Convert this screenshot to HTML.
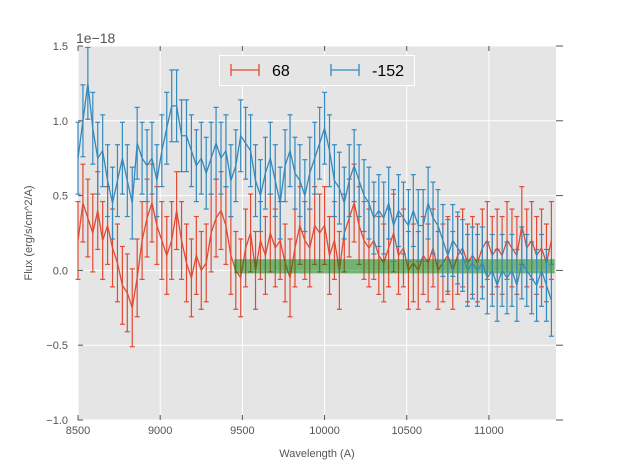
<!DOCTYPE html>
<html><head><meta charset="utf-8"><style>
body{margin:0;background:#fff;}
svg{display:block;font-family:"Liberation Sans",sans-serif;}
</style></head><body>
<svg id="chart" width="617" height="467" viewBox="0 0 617 467"></svg>
<script>
const wavelengths = [];
for (let w = 8500; w <= 11380; w += 30) wavelengths.push(w);
const fluxRed = [0.2,0.45,0.35,0.25,0.4,0.2,0.3,0.15,0.05,-0.1,-0.15,-0.25,-0.05,0.2,0.35,0.45,0.3,0.2,0.1,0.2,0.4,0.2,0.05,-0.05,0.1,0.0,0.05,0.25,0.35,0.4,0.3,0.1,0.0,-0.05,0.15,0.25,0.0,0.2,0.1,0.25,0.15,0.2,0.05,-0.05,0.15,0.3,0.2,0.15,0.3,0.25,0.3,0.1,0.2,0.0,0.25,0.35,0.45,0.3,0.2,0.15,0.2,0.1,0.05,0.15,0.25,0.1,0.15,0.0,0.05,0.0,0.1,0.05,0.15,0.0,0.05,0.1,0.0,0.1,0.15,0.05,0.1,0.05,0.15,0.2,0.1,0.15,0.1,0.2,0.15,0.1,0.3,0.15,0.2,0.1,0.15,0.05,0.2];
const fluxBlue = [0.75,1.0,1.25,0.95,0.75,0.8,0.6,0.45,0.6,0.75,0.6,0.45,0.85,0.75,0.7,0.75,0.6,0.8,0.95,1.1,1.1,0.9,0.9,0.8,0.7,0.75,0.65,0.75,0.85,0.75,0.8,0.6,0.7,0.9,0.85,0.8,0.6,0.5,0.65,0.75,0.6,0.45,0.7,0.8,0.65,0.6,0.5,0.65,0.75,0.85,0.95,0.8,0.6,0.55,0.45,0.6,0.7,0.6,0.5,0.45,0.35,0.4,0.35,0.45,0.3,0.4,0.35,0.3,0.4,0.3,0.3,0.45,0.35,0.3,0.2,0.1,0.2,0.15,0.1,0.0,0.05,0.0,0.05,-0.05,0.0,-0.1,0.0,-0.05,0.0,-0.1,0.05,0.0,-0.05,-0.1,0.0,-0.1,-0.2];
const errRed = 0.26;
const errBlue = 0.24;
const xTicks = [8500,9000,9500,10000,10500,11000];
const yTicks = [-1.0,-0.5,0.0,0.5,1.0,1.5];
const yTickLabels = ["\u22121.0","\u22120.5","0.0","0.5","1.0","1.5"];
const bandRange = [9450, 11400, -0.02, 0.075];

const L=78,R=556,T=46,B=420, X0=8500,X1=11408, Y0=-1.0,Y1=1.5;
const sx=v=>L+(v-X0)/(X1-X0)*(R-L);
const sy=v=>B-(v-Y0)/(Y1-Y0)*(B-T);
const svg=document.getElementById('chart');
const NS='http://www.w3.org/2000/svg';
function mk(tag,attrs,parent){const e=document.createElementNS(NS,tag);for(const k in attrs)e.setAttribute(k,attrs[k]);(parent||svg).appendChild(e);return e;}

const bg=mk('rect',{x:L,y:T,width:R-L,height:B-T,fill:'#e5e5e5'});


const grid=mk('g',{stroke:'#fff','stroke-width':1});


xTicks.forEach(t=>{mk('line',{x1:sx(t),x2:sx(t),y1:T,y2:B},grid);});
yTicks.forEach(t=>{mk('line',{x1:L,x2:R,y1:sy(t),y2:sy(t)},grid);});

function series(vals,err,color,name){
  const g=mk('g',{stroke:color,'stroke-width':1.2,fill:'none'});
  
  
  vals.forEach((v,i)=>{const x=sx(wavelengths[i]);
    mk('line',{x1:x,x2:x,y1:sy(v-err),y2:sy(v+err)},g);
    mk('line',{x1:x-2.5,x2:x+2.5,y1:sy(v-err),y2:sy(v-err)},g);
    mk('line',{x1:x-2.5,x2:x+2.5,y1:sy(v+err),y2:sy(v+err)},g);});
  mk('polyline',{points:vals.map((v,i)=>sx(wavelengths[i])+','+sy(v)).join(' '),'stroke-width':1.3},g);
}
series(fluxRed,errRed,'#E24A33','series-68');
const band=mk('rect',{x:sx(bandRange[0]),y:sy(bandRange[3]),width:sx(Math.min(bandRange[1],X1))-sx(bandRange[0]),height:sy(bandRange[2])-sy(bandRange[3]),fill:'#008000','fill-opacity':0.5});


series(fluxBlue,errBlue,'#348ABD','series-neg152');

const ax=mk('g',{'font-size':11,fill:'#555'});


xTicks.forEach(t=>{mk('line',{x1:sx(t),x2:sx(t),y1:B,y2:B-5,stroke:'#555'},ax);mk('line',{x1:sx(t),x2:sx(t),y1:T,y2:T+5,stroke:'#555'},ax);
  const tx=mk('text',{x:sx(t),y:B+14,'text-anchor':'middle'},ax);tx.textContent=t;
  
  });
yTicks.forEach((t,i)=>{mk('line',{x1:L,x2:L+5,y1:sy(t),y2:sy(t),stroke:'#555'},ax);mk('line',{x1:R,x2:R+7,y1:sy(t),y2:sy(t),stroke:'#555'},ax);
  const tx=mk('text',{x:L-10,y:sy(t)+4,'text-anchor':'end'},ax);tx.textContent=yTickLabels[i];
  
  });
const off=mk('text',{x:76,y:43,'font-size':14,fill:'#555'});off.textContent='1e\u221218';


const xl=mk('text',{x:(L+R)/2,y:457,'text-anchor':'middle','font-size':11,fill:'#555'});xl.textContent='Wavelength (A)';


const yl=mk('text',{x:32,y:(T+B)/2,'text-anchor':'middle','font-size':11,fill:'#555',transform:'rotate(-90 32 '+((T+B)/2)+')'});yl.textContent='Flux (erg/s/cm^2/A)';



const lg=mk('g',{});


mk('rect',{x:219.5,y:55.5,width:195,height:30,fill:'#e5e5e5',stroke:'#fff'},lg);
[['#E24A33','68',228],['#348ABD','-152',328]].forEach(([c,l,x0])=>{
  const e=mk('g',{},lg);
  
  
  mk('line',{x1:x0+3,x2:x0+31,y1:70,y2:70,stroke:c,'stroke-width':1.3},e);
  mk('line',{x1:x0+3,x2:x0+3,y1:64,y2:76,stroke:c,'stroke-width':1.3},e);
  mk('line',{x1:x0+31,x2:x0+31,y1:64,y2:76,stroke:c,'stroke-width':1.3},e);
  const t=mk('text',{x:x0+44,y:76,'font-size':16,fill:'#000'},e);t.textContent=l;
});
</script>
</body></html>
